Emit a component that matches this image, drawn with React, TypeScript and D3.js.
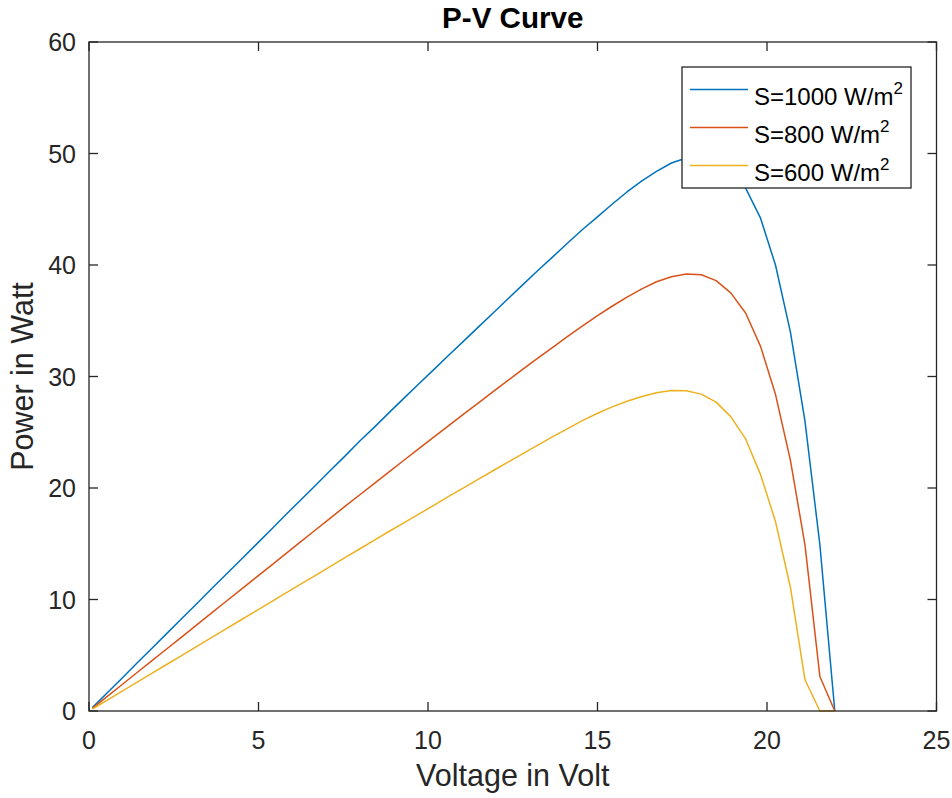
import React from "react";
import * as d3 from "d3";

const voltage = [0.1, 0.54, 0.98, 1.41, 1.85, 2.29, 2.73, 3.17, 3.6, 4.04, 4.48, 4.92, 5.36, 5.79, 6.23, 6.67, 7.11, 7.55, 7.98, 8.42, 8.86, 9.3, 9.74, 10.17, 10.61, 11.05, 11.49, 11.93, 12.36, 12.8, 13.24, 13.68, 14.12, 14.55, 14.99, 15.43, 15.87, 16.31, 16.74, 17.18, 17.62, 18.06, 18.5, 18.93, 19.37, 19.81, 20.25, 20.69, 21.12, 21.56, 22.0];

const power1000 = [0.30, 1.63, 2.96, 4.28, 5.61, 6.94, 8.27, 9.59, 10.92, 12.25, 13.57, 14.90, 16.23, 17.56, 18.88, 20.21, 21.54, 22.86, 24.19, 25.46, 26.78, 28.08, 29.37, 30.62, 31.9, 33.17, 34.45, 35.72, 36.97, 38.24, 39.5, 40.73, 41.97, 43.16, 44.3, 45.45, 46.55, 47.55, 48.4, 49.15, 49.6, 49.75, 49.4, 48.5, 46.9, 44.2, 40.0, 34.0, 26.0, 14.9, 0];

const power800 = [0.24, 1.31, 2.38, 3.43, 4.5, 5.56, 6.63, 7.7, 8.75, 9.82, 10.89, 11.96, 13.02, 14.07, 15.14, 16.21, 17.28, 18.35, 19.37, 20.42, 21.47, 22.51, 23.55, 24.57, 25.6, 26.63, 27.64, 28.66, 29.65, 30.66, 31.64, 32.62, 33.59, 34.52, 35.44, 36.3, 37.12, 37.86, 38.5, 38.95, 39.2, 39.12, 38.6, 37.5, 35.7, 32.7, 28.4, 22.5, 14.9, 3.1, 0];

const power600 = [0.18, 0.98, 1.79, 2.57, 3.37, 4.17, 4.97, 5.78, 6.56, 7.36, 8.16, 8.96, 9.77, 10.55, 11.35, 12.15, 12.95, 13.76, 14.53, 15.33, 16.12, 16.9, 17.68, 18.45, 19.24, 20.02, 20.8, 21.57, 22.32, 23.09, 23.85, 24.6, 25.33, 26.04, 26.68, 27.28, 27.78, 28.2, 28.55, 28.75, 28.72, 28.42, 27.7, 26.4, 24.4, 21.2, 17.0, 11.1, 2.8, 0, 0];

const xTicks = [0, 5, 10, 15, 20, 25];
const yTicks = [0, 10, 20, 30, 40, 50, 60];
const seriesNames = ["S=1000 W/m", "S=800 W/m", "S=600 W/m"];
const seriesColors = ["#0072BD", "#D95319", "#EDB120"];
const seriesData = [power1000, power800, power600];

const W = 952;
const H = 798;
const L = 89, R = 936.5, T = 42, B = 711;
const FONT = "'Liberation Sans', Arial, Helvetica, sans-serif";
const AX = "#262626";

export default function App() {
  const x = d3.scaleLinear().domain([0, 25]).range([L, R]);
  const y = d3.scaleLinear().domain([0, 60]).range([B, T]);
  const line = d3
    .line<number>()
    .x((_, i) => x(voltage[i]))
    .y((d) => y(d));

  const legX = 682, legY = 67, legW = 229, legH = 121;
  const rowY = [89.5, 127.5, 165.5];

  return (
    <svg
      width={W}
      height={H}
      style={{ position: "absolute", left: 0, top: 0, display: "block", background: "#fff" }}
      fontFamily={FONT}
    >
      <rect x={0} y={0} width={W} height={H} fill="#fff" />
      {/* series */}
      <g fill="none" strokeWidth={1.5} strokeLinejoin="round">
        {seriesData.map((s, i) => (
          <path key={i} d={line(s) || ""} stroke={seriesColors[i]} />
        ))}
      </g>
      {/* axes box */}
      <rect x={L} y={T} width={R - L} height={B - T} fill="none" stroke={AX} strokeWidth={1.3} />
      {/* x ticks */}
      {xTicks.map((t) => (
        <g key={"x" + t}>
          <line x1={x(t)} x2={x(t)} y1={B} y2={B - 9} stroke={AX} strokeWidth={1.3} />
          <line x1={x(t)} x2={x(t)} y1={T} y2={T + 9} stroke={AX} strokeWidth={1.3} />
          <text x={x(t)} y={749} textAnchor="middle" fontSize={25} fill={AX}>
            {t}
          </text>
        </g>
      ))}
      {/* y ticks */}
      {yTicks.map((t) => (
        <g key={"y" + t}>
          <line x1={L} x2={L + 9} y1={y(t)} y2={y(t)} stroke={AX} strokeWidth={1.3} />
          <line x1={R} x2={R - 9} y1={y(t)} y2={y(t)} stroke={AX} strokeWidth={1.3} />
          <text x={76} y={y(t) + 9} textAnchor="end" fontSize={25} fill={AX}>
            {t}
          </text>
        </g>
      ))}
      {/* labels */}
      <text x={(L + R) / 2} y={786} textAnchor="middle" fontSize={30.5} fill={AX}>
        Voltage in Volt
      </text>
      <text
        transform={`translate(33,${(T + B) / 2}) rotate(-90)`}
        textAnchor="middle"
        fontSize={30.5}
        fill={AX}
      >
        Power in Watt
      </text>
      <text x={(L + R) / 2} y={28} textAnchor="middle" fontSize={29.6} fontWeight="bold" fill="#000">
        P-V Curve
      </text>
      {/* legend */}
      <rect x={legX} y={legY} width={legW} height={legH} fill="#fff" stroke={AX} strokeWidth={1.3} />
      {seriesNames.map((n, i) => (
        <g key={"l" + i}>
          <line x1={690} x2={748} y1={rowY[i]} y2={rowY[i]} stroke={seriesColors[i]} strokeWidth={1.5} />
          <text x={754} y={rowY[i] + 15.5} fontSize={24} fill="#000">
            {n}
            <tspan fontSize={17} dy={-11}>2</tspan>
          </text>
        </g>
      ))}
    </svg>
  );
}
